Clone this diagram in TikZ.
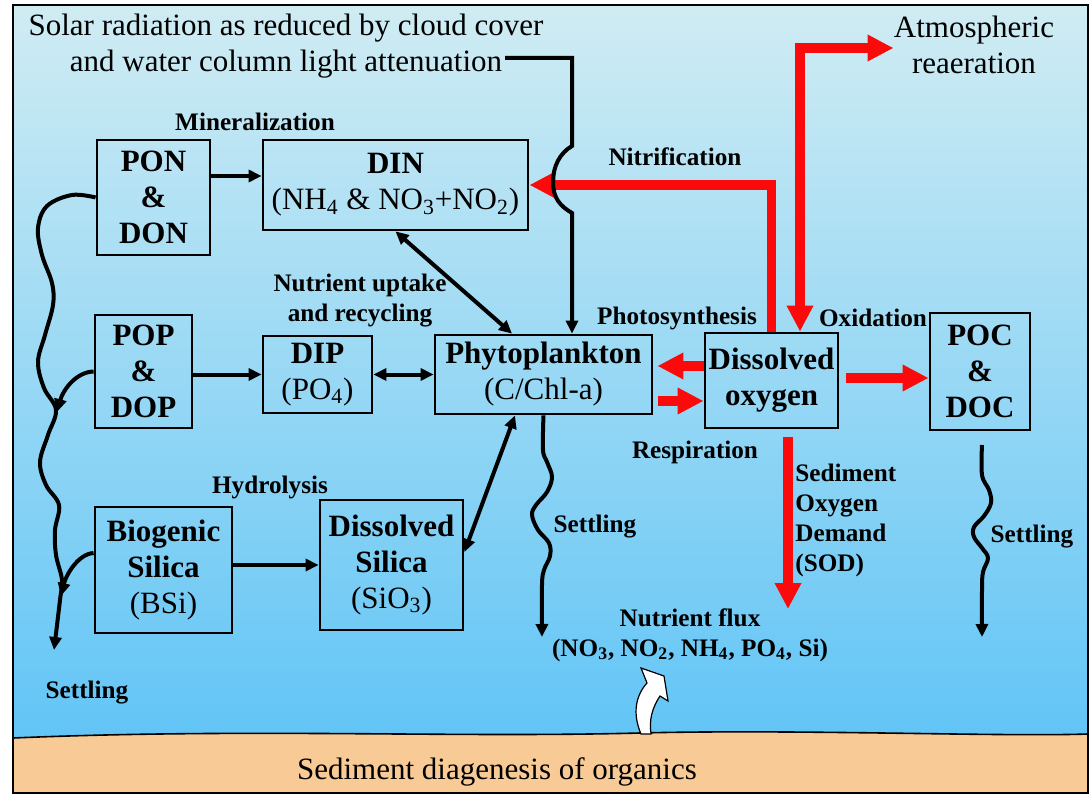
\documentclass[tikz,border=0pt]{standalone}
\usepackage{fontspec}
\setmainfont{Liberation Serif}
\usetikzlibrary{arrows.meta,positioning,calc}
\definecolor{SKY-TOP}{RGB}{208,236,243}
\definecolor{SKY-MID}{RGB}{168,219,242}
\definecolor{SKY-BOT}{RGB}{96,196,246}
\definecolor{SED-TAN}{RGB}{248,202,150}
\definecolor{FLOW-RED}{RGB}{250,10,10}
\newcommand{\bigtxt}{\fontsize{15.5}{18}\selectfont}
\newcommand{\lbltxt}{\fontsize{12.6}{15}\selectfont\bfseries}

\begin{document}
\begin{tikzpicture}[x=0.5pt,y=-0.5pt,
  box/.style={draw, line width=1.4pt, align=center, inner sep=0pt, font=\bigtxt},
  boldbox/.style={box, font=\bigtxt\bfseries},
  sz/.style 2 args={minimum width=0.5*#1, minimum height=0.5*#2},
  txt/.style={align=center, inner sep=0pt, font=\bigtxt},
  lbl/.style={align=center, inner sep=0pt, font=\lbltxt},
  blk/.style={line width=2pt, -{Triangle[length=6.5pt,width=6pt]}},
  blkboth/.style={line width=2pt, {Triangle[length=6.5pt,width=6pt]}-{Triangle[length=6.5pt,width=6pt]}},
  wavy/.style={line width=2pt, line join=round, -{Triangle[length=6.5pt,width=6pt]}},
  redarr/.style={FLOW-RED, line width=4.8pt, -{Triangle[length=13pt,width=12.5pt]}},
  redboth/.style={FLOW-RED, line width=4.8pt, {Triangle[length=13pt,width=12.5pt]}-{Triangle[length=13pt,width=12.5pt]}}]
  \useasboundingbox (0,0) rectangle (1091,796);

  % Water column and sediment bed
  \shade[top color=SKY-TOP, middle color=SKY-MID, bottom color=SKY-BOT] (13,5) rectangle (1088,750);
  \fill[SED-TAN] (13,738) .. controls (250,728) and (450,738) .. (640,733)
    .. controls (800,729) and (1000,737) .. (1088,734) -- (1088,793) -- (13,793) -- cycle;
  \draw[line width=0.8pt] (13,738) .. controls (250,728) and (450,738) .. (640,733)
    .. controls (800,729) and (1000,737) .. (1088,734);
  \draw[line width=1pt] (13,5) rectangle (1088,793);

  % Boxes
  \node[boldbox, sz={113}{115}] (pon) at (153.5,197.5) {PON\\\&\\DON};
  \node[box, sz={265}{90}] (din) at (395.5,185) {\textbf{DIN}\\(NH\textsubscript{4} \& NO\textsubscript{3}+NO\textsubscript{2})};
  \node[boldbox, sz={97}{113}] (pop) at (143.5,371.5) {POP\\\&\\DOP};
  \node[box, sz={109}{77}] (dip) at (317.5,374.5) {\textbf{DIP}\\(PO\textsubscript{4})};
  \node[box, sz={217}{79}] (phyto) at (543.5,374.5) {\textbf{Phytoplankton}\\(C/Chl-a)};
  \node[boldbox, sz={133}{95}] (do) at (771.5,380.5) {Dissolved\\oxygen};
  \node[boldbox, sz={100}{117}] (poc) at (980,371.5) {POC\\\&\\DOC};
  \node[box, sz={137}{126}] (bsi) at (163.5,570) {\textbf{Biogenic}\\\textbf{Silica}\\(BSi)};
  \node[box, sz={143}{130}] (dsi) at (391.5,565) {\textbf{Dissolved}\\\textbf{Silica}\\(SiO\textsubscript{3})};

  % Texts
  \node[txt] (solar) at (286,46) {Solar radiation as reduced by cloud cover\\and water column light attenuation};
  \node[txt] (atmo) at (974,45) {Atmospheric\\reaeration};
  \node[txt] (sedlbl) at (497,772) {Sediment diagenesis of organics};
  \node[lbl] (minlbl) at (255,122) {Mineralization};
  \node[lbl] (nitlbl) at (675,157) {Nitrification};
  \node[lbl] (uptlbl) at (360,301) {Nutrient uptake\\and recycling};
  \node[lbl] (phslbl) at (677,318) {Photosynthesis};
  \node[lbl] (oxilbl) at (873,318) {Oxidation};
  \node[lbl] (reslbl) at (695,452) {Respiration};
  \node[lbl, align=left, anchor=west] (sodlbl) at (795,520) {Sediment\\Oxygen\\Demand\\(SOD)};
  \node[lbl] (hydlbl) at (270,487) {Hydrolysis};
  \node[lbl] (setmid) at (595,527) {Settling};
  \node[lbl] (setpoc) at (1032,537) {Settling};
  \node[lbl] (setleft) at (87,693) {Settling};
  \node[lbl] (fluxlbl) at (690,635) {Nutrient flux\\(NO\textsubscript{3}, NO\textsubscript{2}, NH\textsubscript{4}, PO\textsubscript{4}, Si)};

  % Helper rows and columns
  \coordinate (minrow) at (0,176);
  \coordinate (uptcol) at (512,0);
  \coordinate (sirow) at (0,552);
  \coordinate (sicol) at (515,0);
  \coordinate (sunbeg) at (505,58);
  \coordinate (sunx) at (572,58);
  \coordinate (aerrow) at (0,48);
  \coordinate (aercol) at (800,0);
  \coordinate (psrow) at (0,366);
  \coordinate (rsrow) at (0,401);
  \coordinate (oxrow) at (0,378);
  \coordinate (sodcol) at (788,0);
  \coordinate (sodend) at (788,609);
  \coordinate (pocset) at (982,445);
  \coordinate (leftpop) at (57,412);
  \coordinate (bsirow) at (0,553);
  \coordinate (leftbsi) at (61,596);

  % Oxygen fluxes (red)
  \draw[redarr] (do.north) |- (din.east);
  \draw[redboth] (do.north -| aercol) |- (atmo.west |- aerrow);
  \draw[redarr, shorten >=2pt] (do.west |- psrow) -- (phyto.east |- psrow);
  \draw[redarr, shorten <=2.5pt] (phyto.east |- rsrow) -- (do.west |- rsrow);
  \draw[redarr, shorten <=3.5pt] (do.east |- oxrow) -- (poc.west |- oxrow);
  \draw[redarr, shorten <=4pt] (do.south -| sodcol) -- (sodend);

  % Nutrient pathways
  \draw[blk] (pon.east |- minrow) -- (din.west |- minrow);
  \draw[blk] (pop.east |- dip.west) -- (dip.west);
  \draw[blkboth] (dip.east) -- (phyto.west);
  \draw[blkboth] (din.south) -- (phyto.north -| uptcol);
  \draw[blk] (bsi.east |- dsi.west) -- (dsi.west);
  \draw[blkboth] (dsi.east |- sirow) -- (phyto.south -| sicol);

  % Light, hopping over nitrification
  \draw[blk] (sunbeg) -- (sunx) -- (572,146) .. controls (560,153) and (553,166) .. (553,182)
    .. controls (553,198) and (560,206) .. (572,213) -- (phyto.north -| sunx);

  % Settling
  \draw[wavy] plot[smooth, tension=0.6] coordinates {(pon.west) (72,195) (47,206) (38,228) (42,255) (52,283)
    (53,305) (45,335) (38,362) (44,388) (56,410) (48,435) (40,462) (46,485) (59,505) (55,530)
    (56,555) (62,580) (60,600) (54,650)};
  \draw[blk] (pop.west) .. controls (76,372) and (63,390) .. (leftpop);
  \draw[blk] (bsi.west |- bsirow) .. controls (78,554) and (66,575) .. (leftbsi);
  \draw[wavy] plot[smooth, tension=0.6] coordinates {(phyto.south) (543,450) (547,462) (552,477) (547,492)
    (536,505) (532,515) (538,530) (549,543) (550,556) (544,570) (542,585) (542,637)};
  \draw[wavy] plot[smooth, tension=0.6] coordinates {(pocset) (982,475) (989,490) (991,503) (984,516)
    (974,527) (974,537) (982,548) (988,558) (983,572) (982,590) (982,637)};

  % Sediment release
  \filldraw[fill=white, draw=black, line width=0.6pt] (641,734) .. controls (632,713) and (636,695) .. (647,683)
    -- (641,668) -- (664,676) -- (668,701) -- (660,696) .. controls (652,708) and (649,720) .. (651,734) -- cycle;
\end{tikzpicture}
\end{document}
